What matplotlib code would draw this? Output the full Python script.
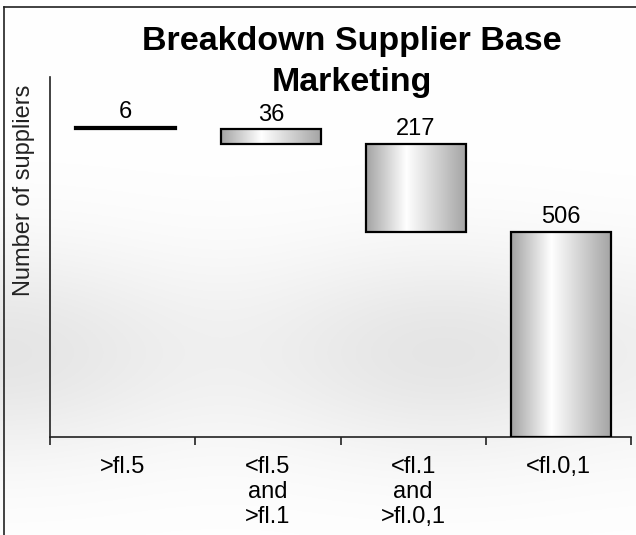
import numpy as np
import matplotlib
matplotlib.use("Agg")
import matplotlib.pyplot as plt
from matplotlib.patches import Rectangle

categories = [">fl.5", "<fl.5\nand\n>fl.1", "<fl.1\nand\n>fl.0,1", "<fl.0,1"]
suppliers = [6, 36, 217, 506]

plt.rcParams['font.family'] = ['Liberation Sans', 'DejaVu Sans']

W, H = 636, 535
fig = plt.figure(figsize=(W / 100, H / 100), dpi=100)

# faded photo-like background (soft grey band in the lower half)
bg = fig.add_axes([0, 0, 1, 1], zorder=-10)
yy = np.linspace(0, 1, 300)[:, None]
xx = np.linspace(0, 1, 300)[None, :]
shade = 1 - 0.10 * np.exp(-((yy - 0.66) / 0.2) ** 2) * (0.8 + 0.2 * np.cos(xx * 9))
bg.imshow(np.dstack([shade] * 3), extent=[0, 1, 1, 0], aspect='auto')
bg.set_xlim(0, 1)
bg.set_ylim(1, 0)
bg.axis('off')

# slide frame: left and top edges only
fig.add_artist(plt.Line2D([4 / W, 4 / W], [0, 1 - 7 / H], color='#222222', lw=1.2))
fig.add_artist(plt.Line2D([4 / W, 1], [1 - 7 / H, 1 - 7 / H], color='#222222', lw=1.2))

ax = fig.add_axes([50 / W, (H - 437) / H, 581 / W, 360 / H])
ax.patch.set_alpha(0)

vals = np.array(suppliers)
tops = np.cumsum(vals[::-1])[::-1]
bottoms = tops - vals
x = np.arange(len(vals))
bw = 0.69

t = np.linspace(0, 1, 200)
prof = np.where(t < 0.4, 0.64 + 0.36 * t / 0.4, 1.0 - 0.36 * (t - 0.4) / 0.6)
grad = np.dstack([np.tile(prof, (2, 1))] * 3)

for xi, b, v in zip(x, bottoms, vals):
    x0 = xi - bw / 2 + 0.02
    rect = Rectangle((x0, b), bw, v, facecolor='none', edgecolor='black', lw=1.6, zorder=3)
    ax.add_patch(rect)
    im = ax.imshow(grad, extent=[x0, x0 + bw, b, b + v], aspect='auto', zorder=2)
    im.set_clip_path(rect)
    ax.text(xi + 0.02, b + v + 8, str(v), ha='center', va='bottom', fontsize=17)

ax.set_xlim(-0.5, 3.5)
ax.set_ylim(0, 887)
ax.set_xticks(np.arange(-0.5, 4, 1))
ax.set_xticklabels([])
ax.set_xticks(x, minor=True)
ax.set_xticklabels(categories, minor=True, fontsize=17, linespacing=1.15, va='top')
ax.tick_params(axis='x', which='minor', length=0, pad=14)
ax.tick_params(axis='x', which='major', length=6, width=1.2, color='#222222')
ax.set_yticks([])
for s in ['top', 'right']:
    ax.spines[s].set_visible(False)
ax.spines['left'].set_linewidth(1.2)
ax.spines['bottom'].set_linewidth(1.2)
ax.spines['left'].set_color('#222222')
ax.spines['bottom'].set_color('#222222')

fig.text(352 / W, 1 - 62 / H, "Breakdown Supplier Base\nMarketing", ha='center', va='center',
         fontsize=24.5, fontweight='bold', linespacing=1.45)
fig.text(24 / W, 1 - 190 / H, "Number of suppliers", rotation=90, ha='center', va='center',
         fontsize=17, color='#222222')

fig.savefig("out.png", dpi=100)
